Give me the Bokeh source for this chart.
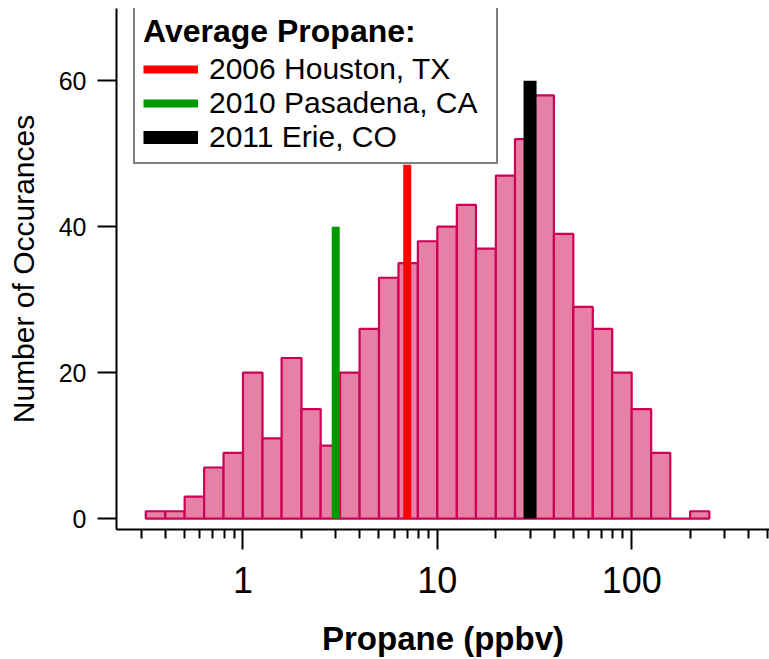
from bokeh.plotting import figure
from bokeh.models import Range1d, FixedTicker, CustomJSTickFormatter, Legend, LegendItem
from bokeh.embed import file_html
from bokeh.resources import INLINE

# Histogram of propane mixing ratios (log-spaced bins, 10 per decade)
bin_left = [0.316, 0.398, 0.501, 0.631, 0.794,
            1.0, 1.26, 1.58, 2.0, 2.51, 3.16, 3.98, 5.01, 6.31, 7.94,
            10.0, 12.6, 15.8, 20.0, 25.1, 31.6, 39.8, 50.1, 63.1, 79.4,
            100.0, 126.0, 158.0, 200.0]
bin_right = [0.398, 0.501, 0.631, 0.794, 1.0,
             1.26, 1.58, 2.0, 2.51, 3.16, 3.98, 5.01, 6.31, 7.94, 10.0,
             12.6, 15.8, 20.0, 25.1, 31.6, 39.8, 50.1, 63.1, 79.4, 100.0,
             126.0, 158.0, 200.0, 251.0]
counts = [1, 1, 3, 7, 9,
          20, 11, 22, 15, 10, 20, 26, 33, 35, 38,
          40, 43, 37, 47, 52, 58, 39, 29, 26, 20,
          15, 9, 0, 1]

# Average propane markers
sites = ["2006 Houston, TX", "2010 Pasadena, CA", "2011 Erie, CO"]
site_avg = [7.0, 3.0, 30.0]
site_top = [48.5, 40.0, 60.0]
site_colors = ["#FF0000", "#009A00", "#000000"]
site_widths = [8, 8, 13]

x_major = [1, 10, 100]
x_minor = [0.3, 0.4, 0.5, 0.6, 0.7, 0.8, 0.9,
           2, 3, 4, 5, 6, 7, 8, 9,
           20, 30, 40, 50, 60, 70, 80, 90,
           200, 300, 400, 500]
y_major = [0, 20, 40, 60]

p = figure(width=769, height=659, x_axis_type="log",
           x_range=Range1d(0.2234, 512), y_range=Range1d(-1.5, 69.9),
           output_backend="svg", toolbar_location=None,
           min_border_left=116, min_border_right=0,
           min_border_top=8, min_border_bottom=130)
p.grid.visible = False
p.outline_line_color = None
p.background_fill_color = "white"
p.border_fill_color = "white"

p.quad(left=bin_left, right=bin_right, bottom=0, top=counts,
       fill_color="#E680A6", line_color="#CC0055", line_width=2.2)

items = []
for name, xv, top, col, lw in zip(sites, site_avg, site_top, site_colors, site_widths):
    r = p.line(x=[xv, xv], y=[0, top], line_color=col, line_width=lw, line_cap="butt")
    items.append(LegendItem(label=name, renderers=[r]))

legend = Legend(items=items, location=(17, 365),
                title="Average Propane:",
                title_text_font="Liberation Sans", title_text_font_style="bold",
                title_text_font_size="32px", title_text_color="black",
                title_standoff=2,
                label_text_font="Liberation Sans", label_text_font_size="30px",
                label_text_color="black",
                glyph_width=55, glyph_height=30, label_standoff=11,
                label_width=279, spacing=-2, padding=8,
                border_line_color="black", border_line_width=2.5,
                background_fill_color="white", background_fill_alpha=1.0)
p.add_layout(legend, "center")

ax = p.xaxis[0]
ax.ticker = FixedTicker(ticks=x_major, minor_ticks=x_minor)
ax.formatter = CustomJSTickFormatter(code="return String(tick)")
ax.axis_label = "Propane (ppbv)"
ax.axis_label_text_font = "Liberation Sans"
ax.axis_label_text_font_style = "bold"
ax.axis_label_text_font_size = "33px"
ax.axis_label_text_color = "black"
ax.axis_label_standoff = 24
ax.major_label_text_font = "Liberation Sans"
ax.major_label_text_font_size = "36px"
ax.major_label_text_color = "black"
ax.major_label_standoff = 17
ax.axis_line_width = 2
ax.axis_line_color = "black"
ax.major_tick_line_width = 2
ax.minor_tick_line_width = 2
ax.major_tick_line_color = "black"
ax.minor_tick_line_color = "black"
ax.major_tick_out = 20
ax.major_tick_in = 0
ax.minor_tick_out = 9
ax.minor_tick_in = 0

ay = p.yaxis[0]
ay.ticker = FixedTicker(ticks=y_major, minor_ticks=[])
ay.axis_label = "Number of Occurances"
ay.axis_label_text_font = "Liberation Sans"
ay.axis_label_text_font_style = "normal"
ay.axis_label_text_font_size = "30px"
ay.axis_label_text_color = "black"
ay.axis_label_standoff = 16
ay.major_label_text_font = "Liberation Sans"
ay.major_label_text_font_size = "25px"
ay.major_label_text_color = "black"
ay.major_label_standoff = 11
ay.axis_line_width = 2
ay.axis_line_color = "black"
ay.major_tick_line_width = 2
ay.major_tick_line_color = "black"
ay.major_tick_out = 19
ay.major_tick_in = 0
ay.minor_tick_out = 0
ay.minor_tick_in = 0

open("out.html", "w").write(file_html(p, INLINE))
